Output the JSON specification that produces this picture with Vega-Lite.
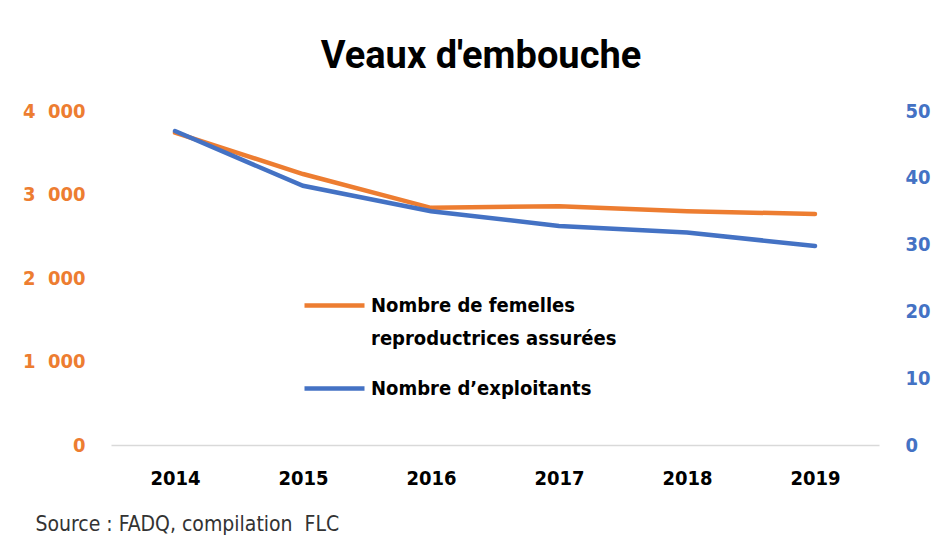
{
  "$schema": "https://vega.github.io/schema/vega-lite/v6.json",
  "width": 768,
  "height": 334,
  "autosize": "none",
  "padding": {"left": 111, "top": 111, "right": 58, "bottom": 92},
  "background": "white",
  "title": {
    "text": "Veaux d'embouche",
    "font": "Roboto",
    "fontSize": 38,
    "fontWeight": "bold",
    "color": "#000000",
    "anchor": "middle",
    "dx": -14,
    "offset": 25
  },
  "data": {
    "values": [
      {"annee": "2014", "serie": "Nombre de femelles reproductrices assurées", "valeur": 3740},
      {"annee": "2015", "serie": "Nombre de femelles reproductrices assurées", "valeur": 3245},
      {"annee": "2016", "serie": "Nombre de femelles reproductrices assurées", "valeur": 2840},
      {"annee": "2017", "serie": "Nombre de femelles reproductrices assurées", "valeur": 2860},
      {"annee": "2018", "serie": "Nombre de femelles reproductrices assurées", "valeur": 2800},
      {"annee": "2019", "serie": "Nombre de femelles reproductrices assurées", "valeur": 2766},
      {"annee": "2014", "serie": "Nombre d’exploitants", "valeur": 47},
      {"annee": "2015", "serie": "Nombre d’exploitants", "valeur": 38.8},
      {"annee": "2016", "serie": "Nombre d’exploitants", "valeur": 35},
      {"annee": "2017", "serie": "Nombre d’exploitants", "valeur": 32.8},
      {"annee": "2018", "serie": "Nombre d’exploitants", "valeur": 31.8},
      {"annee": "2019", "serie": "Nombre d’exploitants", "valeur": 29.8}
    ]
  },
  "encoding": {
    "x": {
      "field": "annee",
      "type": "ordinal",
      "scale": {"type": "point", "padding": 0.5},
      "axis": {
        "title": "Source : FADQ, compilation\u00a0\u00a0FLC",
        "titleFont": "DejaVu Sans Condensed",
        "titleFontSize": 21,
        "titleFontWeight": "normal",
        "titleColor": "#333333",
        "titleAnchor": "start",
        "titleAlign": "left",
        "titleBaseline": "alphabetic",
        "titleX": -76,
        "titleY": 85,
        "labelAngle": 0,
        "labelFont": "DejaVu Sans Condensed",
        "labelFontSize": 20,
        "labelFontWeight": "bold",
        "labelColor": "#000000",
        "labelPadding": 23,
        "ticks": false,
        "domainColor": "#d9d9d9",
        "domainWidth": 1.5,
        "grid": false
      }
    },
    "color": {
      "field": "serie",
      "type": "nominal",
      "scale": {
        "domain": ["Nombre de femelles reproductrices assurées", "Nombre d’exploitants"],
        "range": ["#ED7D31", "#4472C4"]
      },
      "legend": {
        "title": null,
        "orient": "none",
        "legendX": 191,
        "legendY": 162,
        "symbolType": "stroke",
        "symbolStrokeWidth": 4.5,
        "symbolSize": 3600,
        "labelFont": "DejaVu Sans Condensed",
        "labelFontSize": 20,
        "labelFontWeight": "bold",
        "labelColor": "#000000",
        "labelLimit": 400,
        "rowPadding": 7,
        "labelOffset": 4,
        "labelExpr": "datum.label == 'Nombre de femelles reproductrices assurées' ? ['Nombre de femelles', 'reproductrices assurées'] : datum.label",
        "encode": {"labels": {"update": {"lineHeight": {"value": 33}}}}
      }
    }
  },
  "layer": [
    {
      "transform": [{"filter": "datum.serie == 'Nombre de femelles reproductrices assurées'"}],
      "mark": {"type": "line", "strokeWidth": 4.5, "strokeCap": "round"},
      "encoding": {
        "y": {
          "field": "valeur",
          "type": "quantitative",
          "scale": {"domain": [0, 4000], "nice": false},
          "axis": {
            "orient": "left",
            "title": null,
            "values": [0, 1000, 2000, 3000, 4000],
            "labelExpr": "replace(format(datum.value, ','), ',', '\u00a0\u00a0')",
            "labelFont": "DejaVu Sans Condensed",
            "labelFontSize": 20,
            "labelFontWeight": "bold",
            "labelColor": "#ED7D31",
            "labelPadding": 26,
            "ticks": false,
            "domain": false,
            "grid": false
          }
        }
      }
    },
    {
      "transform": [{"filter": "datum.serie == 'Nombre d’exploitants'"}],
      "mark": {"type": "line", "strokeWidth": 4.5, "strokeCap": "round"},
      "encoding": {
        "y": {
          "field": "valeur",
          "type": "quantitative",
          "scale": {"domain": [0, 50], "nice": false},
          "axis": {
            "orient": "right",
            "title": null,
            "values": [0, 10, 20, 30, 40, 50],
            "labelFont": "DejaVu Sans Condensed",
            "labelFontSize": 20,
            "labelFontWeight": "bold",
            "labelColor": "#4472C4",
            "labelPadding": 26,
            "ticks": false,
            "domain": false,
            "grid": false
          }
        }
      }
    }
  ],
  "resolve": {"scale": {"y": "independent"}},
  "config": {"view": {"stroke": null}}
}
